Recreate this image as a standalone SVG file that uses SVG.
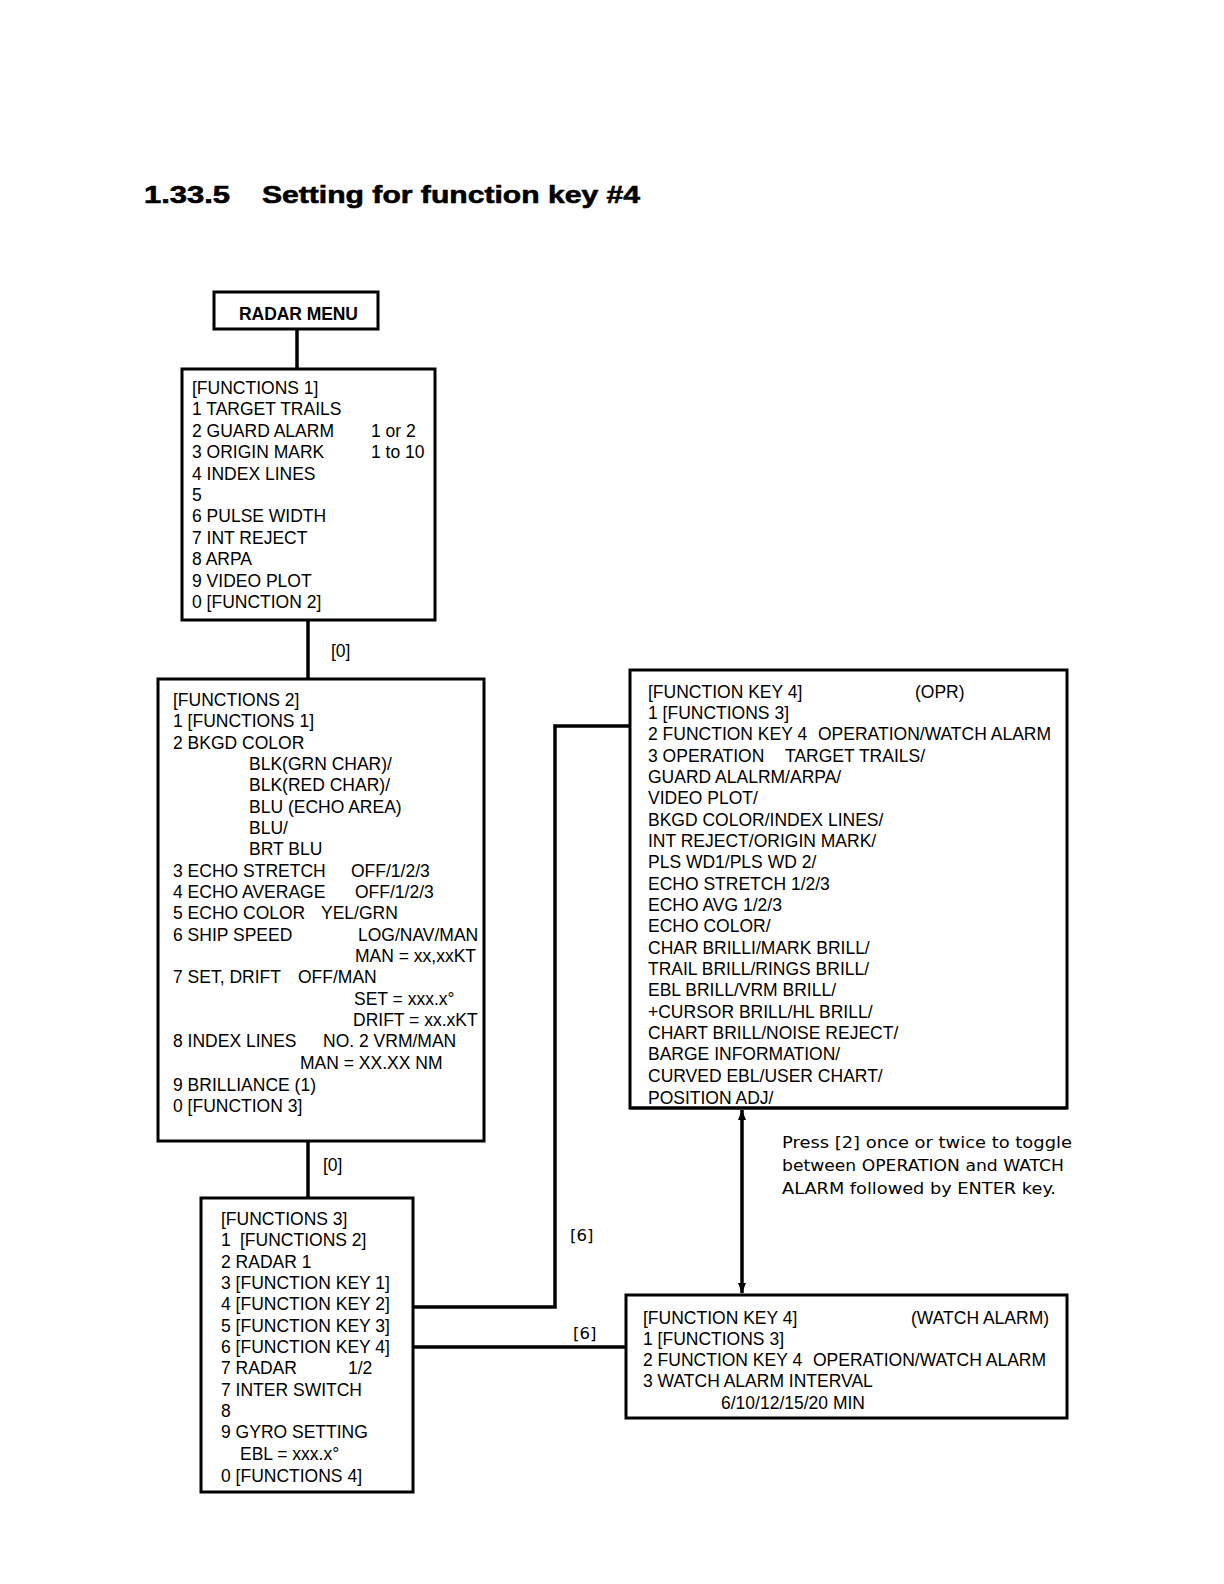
<svg xmlns="http://www.w3.org/2000/svg" width="1224" height="1584" viewBox="0 0 1224 1584">
<style>
.box{fill:#fff;stroke:#000;stroke-width:3}
.ln{fill:none;stroke:#000;stroke-width:3.5}
.t{font-family:"Liberation Sans",Arial,sans-serif;font-size:17.5px;fill:#000}
.n{font-family:"DejaVu Sans",Verdana,sans-serif;font-size:16.5px;fill:#000}
.title{font-family:"Liberation Sans",Arial,sans-serif;font-size:24px;font-weight:bold;fill:#000;stroke:#000;stroke-width:0.6}
</style>
<defs>
<marker id="ah" viewBox="0 0 10 20" refX="10" refY="10" markerWidth="10" markerHeight="20" markerUnits="userSpaceOnUse" orient="auto-start-reverse">
<path d="M0,6 L10,10 L0,14 Z" fill="#000"/>
</marker>
</defs>
<rect width="1224" height="1584" fill="#fff"/>
<text class="title" x="144" y="203" textLength="86" lengthAdjust="spacingAndGlyphs">1.33.5</text>
<text class="title" x="262" y="203" textLength="378" lengthAdjust="spacingAndGlyphs">Setting for function key #4</text>

<g id="connectors">
<line class="ln" x1="297" y1="330" x2="297" y2="369"/>
<line class="ln" x1="308" y1="620" x2="308" y2="679"/>
<line class="ln" x1="308" y1="1141" x2="308" y2="1198"/>
<polyline class="ln" points="413,1307 555,1307 555,726 630,726"/>
<line class="ln" x1="413" y1="1347" x2="626" y2="1347"/>
<line class="ln" x1="742" y1="1110" x2="742" y2="1293" marker-start="url(#ah)" marker-end="url(#ah)"/>
<text class="t" x="331" y="657" font-size="16">[0]</text>
<text class="t" x="323" y="1171" font-size="16">[0]</text>
<text class="n" x="570" y="1241">[6]</text>
<text class="n" x="573" y="1339">[6]</text>
</g>

<g id="radar-menu">
<rect class="box" x="214" y="292" width="164" height="37"/>
<text class="t" x="239" y="320" font-size="15.5" font-weight="bold" textLength="119" lengthAdjust="spacing">RADAR MENU</text>
</g>

<g id="functions1">
<rect class="box" x="182" y="369" width="253" height="251"/>
<text class="t" x="192" y="394">[FUNCTIONS 1]</text>
<text class="t" x="192" y="415">1 TARGET TRAILS</text>
<text class="t" x="192" y="437">2 GUARD ALARM</text>
<text class="t" x="371" y="437">1 or 2</text>
<text class="t" x="192" y="458">3 ORIGIN MARK</text>
<text class="t" x="371" y="458">1 to 10</text>
<text class="t" x="192" y="480">4 INDEX LINES</text>
<text class="t" x="192" y="501">5</text>
<text class="t" x="192" y="522">6 PULSE WIDTH</text>
<text class="t" x="192" y="544">7 INT REJECT</text>
<text class="t" x="192" y="565">8 ARPA</text>
<text class="t" x="192" y="587">9 VIDEO PLOT</text>
<text class="t" x="192" y="608">0 [FUNCTION 2]</text>
</g>

<g id="functions2">
<rect class="box" x="158" y="679" width="326" height="462"/>
<text class="t" x="173" y="706">[FUNCTIONS 2]</text>
<text class="t" x="173" y="727">1 [FUNCTIONS 1]</text>
<text class="t" x="173" y="749">2 BKGD COLOR</text>
<text class="t" x="249" y="770">BLK(GRN CHAR)/</text>
<text class="t" x="249" y="791">BLK(RED CHAR)/</text>
<text class="t" x="249" y="813">BLU (ECHO AREA)</text>
<text class="t" x="249" y="834">BLU/</text>
<text class="t" x="249" y="855">BRT BLU</text>
<text class="t" x="173" y="877">3 ECHO STRETCH</text>
<text class="t" x="351" y="877">OFF/1/2/3</text>
<text class="t" x="173" y="898">4 ECHO AVERAGE</text>
<text class="t" x="355" y="898">OFF/1/2/3</text>
<text class="t" x="173" y="919">5 ECHO COLOR</text>
<text class="t" x="321" y="919">YEL/GRN</text>
<text class="t" x="173" y="941">6 SHIP SPEED</text>
<text class="t" x="358" y="941">LOG/NAV/MAN</text>
<text class="t" x="355" y="962">MAN = xx,xxKT</text>
<text class="t" x="173" y="983">7 SET, DRIFT</text>
<text class="t" x="298" y="983">OFF/MAN</text>
<text class="t" x="354" y="1005">SET = xxx.x°</text>
<text class="t" x="353" y="1026">DRIFT = xx.xKT</text>
<text class="t" x="173" y="1047">8 INDEX LINES</text>
<text class="t" x="323" y="1047">NO. 2 VRM/MAN</text>
<text class="t" x="300" y="1069">MAN = XX.XX NM</text>
<text class="t" x="173" y="1091">9 BRILLIANCE (1)</text>
<text class="t" x="173" y="1112">0 [FUNCTION 3]</text>
</g>

<g id="functions3">
<rect class="box" x="201" y="1198" width="212" height="294"/>
<text class="t" x="221" y="1225">[FUNCTIONS 3]</text>
<text class="t" x="221" y="1246">1</text>
<text class="t" x="240" y="1246">[FUNCTIONS 2]</text>
<text class="t" x="221" y="1268">2 RADAR 1</text>
<text class="t" x="221" y="1289">3 [FUNCTION KEY 1]</text>
<text class="t" x="221" y="1310">4 [FUNCTION KEY 2]</text>
<text class="t" x="221" y="1332">5 [FUNCTION KEY 3]</text>
<text class="t" x="221" y="1353">6 [FUNCTION KEY 4]</text>
<text class="t" x="221" y="1374">7 RADAR</text>
<text class="t" x="348" y="1374">1/2</text>
<text class="t" x="221" y="1396">7 INTER SWITCH</text>
<text class="t" x="221" y="1417">8</text>
<text class="t" x="221" y="1438">9 GYRO SETTING</text>
<text class="t" x="240" y="1460">EBL = xxx.x°</text>
<text class="t" x="221" y="1482">0 [FUNCTIONS 4]</text>
</g>

<g id="fkey4-opr">
<rect class="box" x="630" y="670" width="437" height="438"/>
<text class="t" x="648" y="698">[FUNCTION KEY 4]</text>
<text class="t" x="915" y="698">(OPR)</text>
<text class="t" x="648" y="719">1 [FUNCTIONS 3]</text>
<text class="t" x="648" y="740">2 FUNCTION KEY 4</text>
<text class="t" x="818" y="740">OPERATION/WATCH ALARM</text>
<text class="t" x="648" y="762">3 OPERATION</text>
<text class="t" x="785" y="762">TARGET TRAILS/</text>
<text class="t" x="648" y="783">GUARD ALALRM/ARPA/</text>
<text class="t" x="648" y="804">VIDEO PLOT/</text>
<text class="t" x="648" y="826">BKGD COLOR/INDEX LINES/</text>
<text class="t" x="648" y="847">INT REJECT/ORIGIN MARK/</text>
<text class="t" x="648" y="868">PLS WD1/PLS WD 2/</text>
<text class="t" x="648" y="890">ECHO STRETCH 1/2/3</text>
<text class="t" x="648" y="911">ECHO AVG 1/2/3</text>
<text class="t" x="648" y="932">ECHO COLOR/</text>
<text class="t" x="648" y="954">CHAR BRILLI/MARK BRILL/</text>
<text class="t" x="648" y="975">TRAIL BRILL/RINGS BRILL/</text>
<text class="t" x="648" y="996">EBL BRILL/VRM BRILL/</text>
<text class="t" x="648" y="1018">+CURSOR BRILL/HL BRILL/</text>
<text class="t" x="648" y="1039">CHART BRILL/NOISE REJECT/</text>
<text class="t" x="648" y="1060">BARGE INFORMATION/</text>
<text class="t" x="648" y="1082">CURVED EBL/USER CHART/</text>
<text class="t" x="648" y="1104">POSITION ADJ/</text>
<line x1="630" y1="1108" x2="1067" y2="1108" stroke="#000" stroke-width="3"/>
</g>

<g id="note">
<text class="n" x="782" y="1148" textLength="290" lengthAdjust="spacingAndGlyphs">Press [2] once or twice to toggle</text>
<text class="n" x="782" y="1171" textLength="282" lengthAdjust="spacingAndGlyphs">between OPERATION and WATCH</text>
<text class="n" x="782" y="1194" textLength="274" lengthAdjust="spacingAndGlyphs">ALARM followed by ENTER key.</text>
</g>

<g id="fkey4-watch">
<rect class="box" x="626" y="1295" width="441" height="123"/>
<text class="t" x="643" y="1324">[FUNCTION KEY 4]</text>
<text class="t" x="911" y="1324">(WATCH ALARM)</text>
<text class="t" x="643" y="1345">1 [FUNCTIONS 3]</text>
<text class="t" x="643" y="1366">2 FUNCTION KEY 4</text>
<text class="t" x="813" y="1366">OPERATION/WATCH ALARM</text>
<text class="t" x="643" y="1387">3 WATCH ALARM INTERVAL</text>
<text class="t" x="721" y="1409">6/10/12/15/20 MIN</text>
</g>
</svg>
